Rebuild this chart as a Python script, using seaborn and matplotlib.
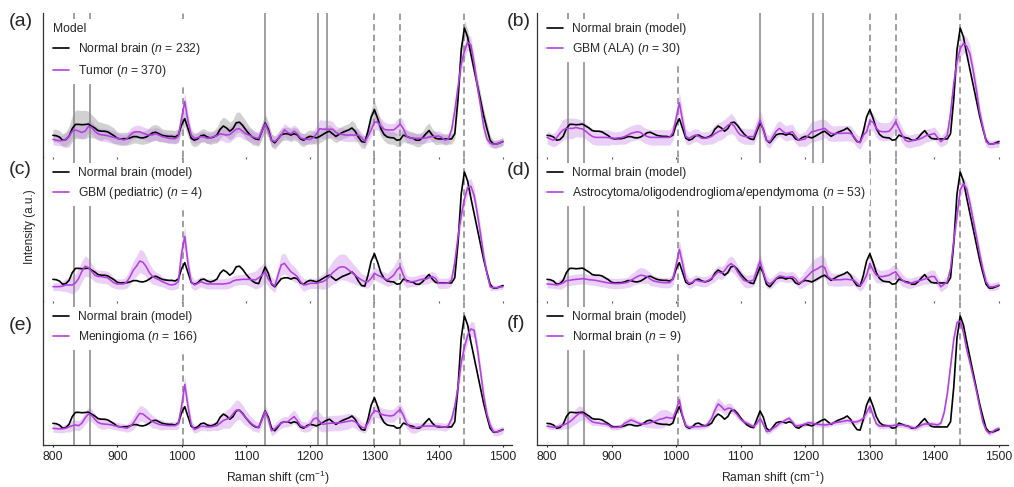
import numpy as np
import matplotlib
matplotlib.use("Agg")
import matplotlib.pyplot as plt
import seaborn as sns

# ---------------- data ----------------
raman_shift = np.arange(800, 1501, 5)  # cm^-1 sampling grid

normal_model = [
    0.168, 0.165, 0.155, 0.130, 0.135, 0.160, 0.220, 0.253, 0.253, 0.250,
    0.252, 0.255, 0.240, 0.225, 0.205, 0.200, 0.200, 0.195, 0.180, 0.165,
    0.145, 0.140, 0.142, 0.142, 0.148, 0.158, 0.158, 0.150, 0.148, 0.155,
    0.170, 0.188, 0.192, 0.180, 0.168, 0.163, 0.160, 0.160, 0.155, 0.170,
    0.250, 0.297, 0.220, 0.145, 0.130, 0.140, 0.165, 0.170, 0.155, 0.148,
    0.155, 0.170, 0.215, 0.240, 0.225, 0.200, 0.220, 0.265, 0.270, 0.245,
    0.210, 0.180, 0.155, 0.140, 0.135, 0.200, 0.264, 0.215, 0.130, 0.110,
    0.140, 0.172, 0.180, 0.180, 0.170, 0.180, 0.172, 0.140, 0.130, 0.150,
    0.160, 0.155, 0.148, 0.160, 0.175, 0.190, 0.200, 0.180, 0.160, 0.175,
    0.190, 0.200, 0.210, 0.225, 0.200, 0.155, 0.120, 0.115, 0.200, 0.310,
    0.367, 0.300, 0.220, 0.175, 0.155, 0.150, 0.148, 0.130, 0.135, 0.170,
    0.160, 0.150, 0.145, 0.130, 0.130, 0.150, 0.180, 0.205, 0.170, 0.145,
    0.140, 0.140, 0.140, 0.140, 0.140, 0.180, 0.450, 0.830, 1.000, 0.930,
    0.800, 0.680, 0.560, 0.440, 0.320, 0.220, 0.130, 0.100, 0.100, 0.110,
    0.120]

normal_model_sd = [
    .05, .05, .05, .05, .06, .08, .10, .11, .11, .11,
    .11, .10, .09, .08, .07, .07, .06, .06, .06, .06,
    .05, .05, .05, .05, .05, .05, .05, .05, .05, .05,
    .06, .06, .06, .06, .05, .05, .05, .05, .05, .05,
    .06, .06, .06, .05, .05, .05, .05, .05, .05, .05,
    .05, .06, .07, .07, .07, .07, .07, .08, .08, .07,
    .07, .06, .06, .05, .05, .06, .07, .06, .05, .05,
    .05, .05, .05, .05, .05, .05, .05, .05, .05, .05,
    .05, .05, .05, .05, .05, .05, .05, .05, .05, .05,
    .05, .05, .05, .06, .06, .05, .05, .05, .05, .06,
    .07, .06, .06, .05, .05, .05, .05, .05, .05, .05,
    .05, .05, .05, .05, .05, .05, .06, .06, .05, .05,
    .04, .04, .04, .04, .04, .04, .05, .06, .06, .06,
    .06, .06, .06, .06, .05, .05, .04, .03, .03, .03,
    .03]

tumor = [
    0.137, 0.130, 0.127, 0.127, 0.137, 0.160, 0.200, 0.210, 0.200, 0.190,
    0.200, 0.235, 0.230, 0.200, 0.180, 0.172, 0.170, 0.165, 0.158, 0.152,
    0.145, 0.140, 0.132, 0.140, 0.170, 0.190, 0.196, 0.195, 0.185, 0.175,
    0.170, 0.172, 0.180, 0.170, 0.158, 0.152, 0.145, 0.143, 0.142, 0.160,
    0.300, 0.430, 0.280, 0.170, 0.145, 0.150, 0.158, 0.155, 0.145, 0.148,
    0.158, 0.165, 0.180, 0.175, 0.170, 0.175, 0.195, 0.215, 0.220, 0.200,
    0.180, 0.170, 0.158, 0.148, 0.145, 0.200, 0.256, 0.200, 0.130, 0.120,
    0.140, 0.170, 0.210, 0.190, 0.180, 0.200, 0.180, 0.148, 0.140, 0.138,
    0.136, 0.150, 0.180, 0.220, 0.215, 0.215, 0.215, 0.215, 0.190, 0.180,
    0.175, 0.170, 0.170, 0.170, 0.170, 0.170, 0.150, 0.120, 0.160, 0.210,
    0.270, 0.270, 0.240, 0.215, 0.210, 0.210, 0.210, 0.230, 0.256, 0.220,
    0.160, 0.150, 0.145, 0.145, 0.145, 0.145, 0.148, 0.155, 0.158, 0.160,
    0.163, 0.150, 0.130, 0.140, 0.210, 0.360, 0.545, 0.720, 0.820, 0.890,
    0.870, 0.730, 0.550, 0.400, 0.235, 0.140, 0.106, 0.100, 0.100, 0.110,
    0.119]

tumor_sd = [
    .04, .04, .04, .04, .05, .05, .05, .05, .05, .05,
    .05, .05, .05, .05, .05, .05, .05, .05, .05, .05,
    .04, .04, .04, .04, .05, .05, .05, .05, .05, .05,
    .05, .05, .05, .05, .04, .04, .04, .04, .04, .05,
    .06, .07, .06, .05, .04, .04, .04, .04, .04, .04,
    .04, .05, .05, .05, .06, .06, .06, .06, .06, .06,
    .05, .05, .05, .05, .05, .05, .06, .05, .05, .04,
    .04, .05, .05, .05, .05, .05, .05, .04, .04, .04,
    .04, .05, .06, .07, .07, .07, .07, .06, .05, .05,
    .05, .05, .05, .05, .05, .05, .04, .04, .05, .05,
    .06, .06, .06, .06, .05, .05, .05, .06, .06, .06,
    .05, .04, .04, .04, .04, .04, .04, .04, .04, .04,
    .04, .04, .04, .04, .04, .05, .06, .06, .06, .06,
    .06, .06, .06, .06, .05, .04, .03, .03, .03, .03,
    .03]

gbm_ala = [
    0.152, 0.140, 0.130, 0.150, 0.184, 0.210, 0.222, 0.222, 0.222, 0.229,
    0.222, 0.217, 0.200, 0.178, 0.160, 0.152, 0.152, 0.152, 0.152, 0.150,
    0.148, 0.145, 0.148, 0.150, 0.158, 0.170, 0.183, 0.190, 0.196, 0.190,
    0.170, 0.160, 0.152, 0.152, 0.152, 0.152, 0.152, 0.152, 0.152, 0.190,
    0.300, 0.420, 0.280, 0.160, 0.145, 0.160, 0.170, 0.160, 0.145, 0.145,
    0.150, 0.160, 0.180, 0.196, 0.205, 0.222, 0.245, 0.260, 0.240, 0.196,
    0.170, 0.160, 0.158, 0.158, 0.158, 0.220, 0.287, 0.210, 0.130, 0.118,
    0.160, 0.200, 0.222, 0.200, 0.183, 0.190, 0.196, 0.160, 0.130, 0.135,
    0.140, 0.170, 0.196, 0.200, 0.209, 0.215, 0.222, 0.200, 0.183, 0.180,
    0.183, 0.183, 0.185, 0.185, 0.183, 0.160, 0.125, 0.110, 0.170, 0.196,
    0.280, 0.270, 0.222, 0.200, 0.196, 0.196, 0.200, 0.230, 0.275, 0.220,
    0.170, 0.130, 0.120, 0.125, 0.132, 0.135, 0.145, 0.160, 0.170, 0.175,
    0.183, 0.150, 0.118, 0.140, 0.170, 0.340, 0.570, 0.740, 0.840, 0.880,
    0.860, 0.800, 0.670, 0.520, 0.350, 0.235, 0.120, 0.100, 0.100, 0.105,
    0.106]

gbm_ala_sd = [
    .05, .05, .05, .06, .07, .08, .08, .08, .08, .07,
    .07, .06, .06, .06, .06, .06, .06, .06, .06, .06,
    .05, .05, .05, .05, .06, .06, .06, .06, .06, .06,
    .06, .06, .06, .06, .06, .06, .06, .06, .06, .06,
    .07, .08, .07, .06, .05, .05, .05, .05, .05, .05,
    .05, .06, .07, .07, .07, .07, .07, .08, .07, .07,
    .06, .06, .06, .06, .06, .07, .08, .07, .05, .05,
    .05, .06, .06, .06, .06, .06, .06, .05, .05, .05,
    .06, .07, .08, .08, .08, .08, .07, .07, .06, .06,
    .06, .06, .06, .06, .06, .05, .05, .05, .06, .06,
    .07, .07, .07, .07, .07, .07, .07, .07, .07, .06,
    .06, .05, .05, .05, .05, .05, .05, .05, .05, .05,
    .05, .05, .04, .05, .06, .07, .08, .08, .07, .07,
    .07, .07, .07, .07, .06, .05, .04, .03, .03, .03,
    .03]

gbm_pediatric = [
    0.111, 0.111, 0.111, 0.115, 0.124, 0.124, 0.124, 0.140, 0.176, 0.230,
    0.270, 0.260, 0.232, 0.200, 0.190, 0.189, 0.185, 0.180, 0.160, 0.140,
    0.132, 0.132, 0.132, 0.150, 0.189, 0.240, 0.270, 0.310, 0.300, 0.266,
    0.220, 0.189, 0.175, 0.165, 0.150, 0.140, 0.128, 0.124, 0.130, 0.150,
    0.370, 0.500, 0.290, 0.150, 0.124, 0.135, 0.150, 0.140, 0.132, 0.132,
    0.132, 0.132, 0.132, 0.132, 0.135, 0.140, 0.155, 0.163, 0.165, 0.168,
    0.168, 0.168, 0.165, 0.163, 0.180, 0.200, 0.227, 0.170, 0.136, 0.116,
    0.200, 0.280, 0.292, 0.260, 0.227, 0.210, 0.189, 0.150, 0.124, 0.128,
    0.137, 0.137, 0.137, 0.145, 0.150, 0.165, 0.189, 0.220, 0.240, 0.260,
    0.266, 0.260, 0.240, 0.220, 0.200, 0.180, 0.163, 0.150, 0.150, 0.176,
    0.215, 0.200, 0.189, 0.175, 0.163, 0.180, 0.200, 0.240, 0.266, 0.200,
    0.150, 0.150, 0.150, 0.155, 0.163, 0.170, 0.168, 0.180, 0.189, 0.175,
    0.137, 0.137, 0.137, 0.140, 0.163, 0.300, 0.500, 0.660, 0.790, 0.880,
    0.890, 0.820, 0.680, 0.520, 0.350, 0.214, 0.110, 0.103, 0.103, 0.108,
    0.111]

gbm_pediatric_sd = [
    .03, .03, .03, .04, .05, .06, .07, .07, .08, .08,
    .08, .07, .06, .05, .05, .05, .05, .05, .05, .04,
    .04, .04, .04, .05, .06, .07, .08, .09, .09, .08,
    .07, .06, .05, .05, .04, .04, .04, .04, .04, .05,
    .07, .08, .07, .05, .04, .04, .04, .04, .04, .04,
    .04, .04, .04, .04, .04, .04, .04, .04, .04, .04,
    .04, .05, .06, .07, .08, .08, .08, .06, .05, .05,
    .06, .08, .08, .07, .06, .06, .05, .05, .05, .04,
    .04, .04, .04, .05, .06, .07, .08, .09, .10, .10,
    .10, .10, .09, .08, .07, .06, .05, .05, .05, .05,
    .05, .05, .05, .05, .05, .06, .07, .08, .08, .07,
    .05, .04, .04, .04, .04, .04, .04, .04, .04, .04,
    .04, .04, .04, .04, .04, .05, .06, .06, .06, .06,
    .06, .06, .06, .06, .05, .04, .03, .02, .02, .02,
    .02]

astro_oligo_ependy = [
    0.132, 0.130, 0.128, 0.124, 0.130, 0.140, 0.158, 0.160, 0.165, 0.168,
    0.170, 0.173, 0.170, 0.165, 0.163, 0.160, 0.155, 0.150, 0.145, 0.140,
    0.137, 0.135, 0.135, 0.137, 0.140, 0.145, 0.160, 0.176, 0.190, 0.200,
    0.196, 0.189, 0.170, 0.155, 0.150, 0.145, 0.142, 0.142, 0.142, 0.170,
    0.280, 0.400, 0.290, 0.170, 0.137, 0.145, 0.163, 0.155, 0.150, 0.150,
    0.160, 0.176, 0.200, 0.227, 0.215, 0.235, 0.270, 0.290, 0.270, 0.227,
    0.190, 0.160, 0.150, 0.155, 0.163, 0.240, 0.310, 0.220, 0.150, 0.132,
    0.150, 0.176, 0.194, 0.190, 0.183, 0.185, 0.189, 0.170, 0.137, 0.150,
    0.176, 0.200, 0.227, 0.240, 0.253, 0.270, 0.260, 0.189, 0.170, 0.163,
    0.165, 0.165, 0.168, 0.168, 0.165, 0.163, 0.140, 0.116, 0.150, 0.200,
    0.290, 0.240, 0.200, 0.190, 0.189, 0.195, 0.200, 0.215, 0.227, 0.190,
    0.163, 0.145, 0.137, 0.140, 0.150, 0.155, 0.163, 0.170, 0.180, 0.190,
    0.190, 0.150, 0.110, 0.130, 0.150, 0.250, 0.470, 0.660, 0.860, 0.910,
    0.870, 0.760, 0.630, 0.500, 0.370, 0.250, 0.150, 0.110, 0.110, 0.115,
    0.124]

astro_oligo_ependy_sd = [
    .03, .03, .03, .03, .04, .04, .04, .04, .04, .04,
    .04, .04, .04, .04, .04, .04, .04, .04, .04, .04,
    .04, .04, .04, .04, .04, .04, .05, .05, .06, .06,
    .06, .05, .05, .04, .04, .04, .04, .04, .04, .05,
    .06, .07, .06, .05, .04, .04, .04, .04, .04, .04,
    .04, .04, .05, .05, .05, .05, .06, .06, .06, .05,
    .05, .05, .05, .05, .05, .06, .06, .06, .05, .04,
    .04, .04, .04, .04, .04, .04, .04, .04, .04, .05,
    .06, .07, .08, .09, .09, .09, .08, .07, .05, .05,
    .05, .05, .05, .05, .05, .04, .04, .04, .05, .05,
    .06, .06, .06, .05, .05, .05, .05, .06, .06, .05,
    .05, .04, .04, .04, .04, .04, .04, .04, .05, .05,
    .05, .04, .04, .04, .04, .05, .05, .06, .05, .05,
    .05, .05, .05, .05, .05, .04, .04, .03, .03, .03,
    .03]

meningioma = [
    0.129, 0.127, 0.125, 0.125, 0.130, 0.140, 0.150, 0.155, 0.150, 0.170,
    0.210, 0.240, 0.230, 0.200, 0.175, 0.165, 0.162, 0.160, 0.157, 0.150,
    0.145, 0.140, 0.135, 0.130, 0.145, 0.170, 0.210, 0.245, 0.240, 0.220,
    0.200, 0.180, 0.170, 0.160, 0.155, 0.152, 0.150, 0.150, 0.150, 0.165,
    0.300, 0.470, 0.300, 0.160, 0.120, 0.130, 0.145, 0.145, 0.140, 0.140,
    0.145, 0.150, 0.170, 0.190, 0.200, 0.210, 0.240, 0.270, 0.270, 0.240,
    0.210, 0.185, 0.160, 0.145, 0.135, 0.200, 0.260, 0.200, 0.110, 0.125,
    0.150, 0.170, 0.180, 0.180, 0.200, 0.220, 0.190, 0.150, 0.140, 0.140,
    0.160, 0.200, 0.210, 0.180, 0.160, 0.165, 0.168, 0.170, 0.170, 0.172,
    0.175, 0.180, 0.185, 0.190, 0.180, 0.160, 0.140, 0.130, 0.170, 0.230,
    0.266, 0.260, 0.240, 0.232, 0.228, 0.225, 0.230, 0.255, 0.276, 0.230,
    0.170, 0.140, 0.130, 0.135, 0.140, 0.145, 0.147, 0.147, 0.147, 0.147,
    0.147, 0.142, 0.137, 0.150, 0.200, 0.300, 0.450, 0.640, 0.760, 0.850,
    0.900, 0.890, 0.750, 0.570, 0.380, 0.240, 0.155, 0.105, 0.100, 0.108,
    0.117]

meningioma_sd = [
    .03, .03, .03, .03, .03, .04, .04, .04, .04, .04,
    .05, .05, .05, .04, .04, .04, .04, .03, .03, .03,
    .03, .03, .03, .03, .04, .05, .06, .06, .06, .06,
    .05, .05, .04, .04, .04, .03, .03, .03, .03, .04,
    .06, .07, .06, .04, .03, .03, .03, .03, .03, .03,
    .03, .04, .05, .06, .07, .08, .08, .08, .07, .07,
    .06, .05, .05, .04, .04, .05, .05, .05, .04, .04,
    .04, .04, .04, .04, .05, .05, .05, .04, .04, .04,
    .05, .06, .07, .07, .06, .06, .06, .06, .06, .06,
    .06, .06, .06, .05, .05, .05, .04, .04, .04, .05,
    .05, .05, .05, .05, .05, .05, .05, .05, .05, .05,
    .04, .04, .04, .04, .03, .03, .03, .03, .03, .03,
    .03, .03, .03, .03, .04, .05, .06, .06, .06, .06,
    .06, .06, .06, .06, .05, .04, .03, .03, .03, .03,
    .03]

normal_brain_n9 = [
    0.147, 0.142, 0.137, 0.140, 0.147, 0.155, 0.165, 0.180, 0.200, 0.225,
    0.245, 0.245, 0.225, 0.200, 0.180, 0.173, 0.170, 0.165, 0.163, 0.155,
    0.137, 0.137, 0.137, 0.145, 0.168, 0.180, 0.194, 0.185, 0.173, 0.165,
    0.163, 0.165, 0.173, 0.180, 0.190, 0.200, 0.205, 0.215, 0.210, 0.207,
    0.270, 0.350, 0.220, 0.150, 0.137, 0.140, 0.142, 0.142, 0.145, 0.147,
    0.170, 0.207, 0.270, 0.318, 0.300, 0.270, 0.285, 0.284, 0.260, 0.233,
    0.200, 0.180, 0.168, 0.155, 0.142, 0.168, 0.207, 0.160, 0.103, 0.110,
    0.129, 0.145, 0.168, 0.180, 0.195, 0.207, 0.180, 0.147, 0.150, 0.155,
    0.163, 0.173, 0.170, 0.163, 0.160, 0.158, 0.155, 0.158, 0.165, 0.173,
    0.176, 0.180, 0.185, 0.190, 0.185, 0.178, 0.180, 0.190, 0.207, 0.250,
    0.302, 0.230, 0.165, 0.147, 0.145, 0.147, 0.147, 0.150, 0.155, 0.155,
    0.155, 0.150, 0.142, 0.137, 0.129, 0.140, 0.155, 0.163, 0.163, 0.163,
    0.160, 0.155, 0.170, 0.250, 0.400, 0.610, 0.820, 0.950, 0.960, 0.870,
    0.740, 0.640, 0.530, 0.420, 0.297, 0.180, 0.116, 0.090, 0.103, 0.120,
    0.129]

normal_brain_n9_sd = [
    .02, .02, .02, .02, .03, .03, .04, .05, .05, .06,
    .06, .05, .04, .03, .03, .02, .02, .02, .02, .02,
    .02, .02, .02, .02, .03, .03, .03, .03, .02, .02,
    .02, .03, .04, .05, .06, .07, .07, .06, .05, .04,
    .04, .05, .04, .03, .02, .02, .02, .02, .02, .02,
    .03, .04, .05, .05, .04, .04, .04, .04, .03, .03,
    .02, .02, .02, .02, .02, .02, .02, .02, .02, .02,
    .02, .02, .02, .02, .02, .02, .02, .02, .02, .02,
    .02, .02, .02, .02, .02, .02, .02, .02, .02, .02,
    .02, .02, .02, .02, .02, .02, .02, .02, .03, .03,
    .03, .03, .02, .02, .02, .02, .02, .02, .02, .02,
    .02, .02, .02, .02, .02, .02, .02, .02, .02, .02,
    .02, .02, .02, .02, .03, .03, .03, .03, .03, .03,
    .03, .03, .03, .03, .03, .02, .02, .02, .02, .02,
    .02]

panel_letters = ["(a)", "(b)", "(c)", "(d)", "(e)", "(f)"]
black_labels = [r"Normal brain ($\mathit{n}$ = 232)", "Normal brain (model)", "Normal brain (model)",
                "Normal brain (model)", "Normal brain (model)", "Normal brain (model)"]
purple_labels = [r"Tumor ($\mathit{n}$ = 370)", r"GBM (ALA) ($\mathit{n}$ = 30)",
                 r"GBM (pediatric) ($\mathit{n}$ = 4)",
                 r"Astrocytoma/oligodendroglioma/ependymoma ($\mathit{n}$ = 53)",
                 r"Meningioma ($\mathit{n}$ = 166)", r"Normal brain ($\mathit{n}$ = 9)"]
purple_series = [tumor, gbm_ala, gbm_pediatric, astro_oligo_ependy, meningioma, normal_brain_n9]
purple_sd = [tumor_sd, gbm_ala_sd, gbm_pediatric_sd, astro_oligo_ependy_sd, meningioma_sd,
             normal_brain_n9_sd]

solid_bands = [833, 857, 1130, 1212, 1227]
dashed_bands = [1003, 1300, 1340, 1440]
x_ticks = [800, 900, 1000, 1100, 1200, 1300, 1400, 1500]

for arr in [normal_model, normal_model_sd] + purple_series + purple_sd:
    assert len(arr) == len(raman_shift), len(arr)

# ---------------- style ----------------
sns.set_style("white")
plt.rcParams["font.family"] = ["Liberation Sans", "DejaVu Sans"]
plt.rcParams["mathtext.fontset"] = "custom"
plt.rcParams["mathtext.rm"] = "Liberation Sans"
plt.rcParams["mathtext.it"] = "Liberation Sans:italic"
plt.rcParams["mathtext.default"] = "regular"

PURPLE = "#B23FE0"
PURPLE_BAND = "#C57BEA"
GREY_LINE = "#8a8a8a"
FS = 8.7

W, H = 1014, 487
fig = plt.figure(figsize=(W / 100, H / 100), dpi=100)


def rect(x0, y0, x1, y1):
    return [x0 / W, 1 - y1 / H, (x1 - x0) / W, (y1 - y0) / H]


col_x = [(43, 512), (537, 1008)]
row_y = [(13, 157), (157, 301), (301, 445)]

axes = []
for r in range(3):
    for c in range(2):
        axes.append(fig.add_axes(rect(col_x[c][0], row_y[r][0], col_x[c][1], row_y[r][1])))

for i, ax in enumerate(axes):
    r, c = divmod(i, 2)
    x = raman_shift
    black = np.array(normal_model)
    purp = np.array(purple_series[i])
    psd = np.array(purple_sd[i])

    if i == 0:
        bsd = np.array(normal_model_sd)
        ax.fill_between(x, black - bsd, black + bsd, color="#9a9a9a", alpha=0.45,
                        lw=0, zorder=1)
    ax.fill_between(x, purp - psd, purp + psd, color=PURPLE_BAND, alpha=0.35, lw=0, zorder=1.2)

    for v in solid_bands:
        ax.axvline(v, color=GREY_LINE, lw=1.15, zorder=1.5)
    for v in dashed_bands:
        ax.axvline(v, color=GREY_LINE, lw=1.15, ls=(0, (4, 2.6)), zorder=1.5)

    sns.lineplot(x=x, y=black, ax=ax, color="black", lw=1.2, label=black_labels[i], zorder=3)
    sns.lineplot(x=x, y=purp, ax=ax, color=PURPLE, lw=1.15, label=purple_labels[i], zorder=3.1)

    ax.set_xlim(784.5, 1514)
    ax.set_ylim(0, 144 / 129)
    ax.set_yticks([])
    ax.set_xticks(x_ticks)
    ax.set_xlabel("")
    ax.set_ylabel("")
    for s in ["top", "right"]:
        ax.spines[s].set_visible(False)
    ax.spines["left"].set_color("#333333")
    ax.spines["left"].set_linewidth(0.9)
    if r < 2:
        ax.spines["bottom"].set_visible(False)
        ax.tick_params(axis="x", labelbottom=False, length=1.2, width=0.8, color="#555555",
                       direction="out", bottom=True)
    else:
        ax.spines["bottom"].set_color("#333333")
        ax.spines["bottom"].set_linewidth(0.9)
        ax.tick_params(axis="x", labelsize=FS, length=1.5, width=0.8, pad=3, bottom=True,
                       colors="#222222")
    ax.patch.set_alpha(0)

    axw = col_x[c][1] - col_x[c][0]
    leg = ax.legend(loc="upper left", bbox_to_anchor=(5 / axw, 1 - 5.5 / 144),
                    borderaxespad=0, frameon=True, fontsize=FS, handlelength=1.35,
                    handletextpad=0.7, labelspacing=0.5, borderpad=0.4,
                    title="Model" if i == 0 else None, title_fontsize=FS,
                    alignment="left")
    leg.get_frame().set_facecolor("white")
    leg.get_frame().set_edgecolor("none")
    leg.get_frame().set_alpha(1.0)
    leg.set_zorder(5)
    for h in leg.legend_handles:
        h.set_linewidth(1.2)

# panel letters
letter_pos = [(9, 22), (507, 22), (9, 170), (507, 171), (9, 325), (507, 323)]
for lab, (px, py) in zip(panel_letters, letter_pos):
    fig.text(px / W, 1 - py / H, lab, fontsize=14, ha="left", va="center")

fig.text(30.5 / W, 1 - 227 / H, "Intensity (a.u.)", rotation=90, fontsize=8.5,
         ha="center", va="center")
for cx in [(43 + 512) / 2, (537 + 1008) / 2]:
    fig.text(cx / W, 1 - 478 / H, "Raman shift (cm$^{-1}$)", fontsize=8.7,
             ha="center", va="center")

fig.savefig("out.png", dpi=100)
